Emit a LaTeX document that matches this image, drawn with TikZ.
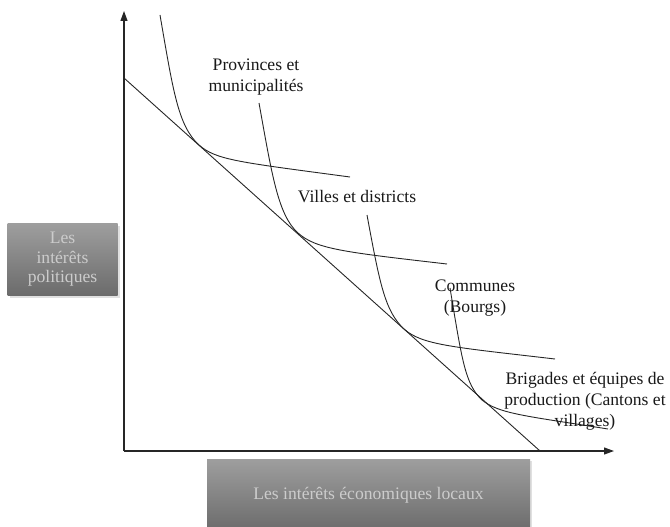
\documentclass[tikz,border=0pt]{standalone}
\usepackage{fontspec}
\setmainfont{Liberation Serif}
\usetikzlibrary{arrows.meta,shadows}
\begin{document}
\begin{tikzpicture}[x=1pt,y=-1pt,
  curve/.style={line width=0.9pt,black!85},
  axis/.style={line width=1.1pt,black!85,-{Triangle[length=10pt,width=7pt]}},
  lbl/.style={font=\fontsize{17.6}{21}\selectfont,align=center,inner sep=0pt,text=black!90},
  graybox/.style={draw=none,top color=black!38,bottom color=black!58,
     drop shadow={shadow xshift=2pt,shadow yshift=-2pt,fill=black!12,opacity=1},
     font=\fontsize{17.6}{19.5}\selectfont,text=black!20,align=center,inner sep=0pt}]
\useasboundingbox (0,0) rectangle (670,527);
% axes
\coordinate (O) at (124,451);
\coordinate (ytop) at (124,11);
\coordinate (xend) at (614,451);
\draw[axis] (O) -- (ytop);
\draw[axis] (O) -- (xend);
% budget line
\coordinate (L1) at (124,78);
\coordinate (L2) at (540,451);
\draw[curve] (L1) -- (L2);
% indifference curves
\coordinate (c1a) at (160,15);
\coordinate (c1t) at (199,145);
\coordinate (c1b) at (350,177);
\draw[curve] (c1a) .. controls (173,90) and (178,126) .. (c1t)
             .. controls (216,160) and (238,162) .. (c1b);
\coordinate (c2a) at (259,103);
\coordinate (c2t) at (298,233);
\coordinate (c2b) at (447,264);
\draw[curve] (c2a) .. controls (272,175) and (278,215) .. (c2t)
             .. controls (316,249) and (343,252) .. (c2b);
\coordinate (c3a) at (367,215);
\coordinate (c3t) at (404,329);
\coordinate (c3b) at (555,359);
\draw[curve] (c3a) .. controls (380,285) and (385,311) .. (c3t)
             .. controls (422,345) and (452,347) .. (c3b);
\coordinate (c4a) at (450,288);
\coordinate (c4t) at (482,400);
\coordinate (c4b) at (608,429);
\draw[curve] (c4a) .. controls (462,360) and (465,384) .. (c4t)
             .. controls (499,414) and (527,416) .. (c4b);
% labels
\node[lbl] (t1) at (256,77) {Provinces et\\municipalités};
\node[lbl] (t2) at (357,197) {Villes et districts};
\node[lbl] (t3) at (475,298) {Communes\\(Bourgs)};
\node[lbl] (t4) at (585,401) {Brigades et équipes de\\production (Cantons et\\villages)};
% gray boxes
\node[graybox,minimum width=110pt,minimum height=72pt] (yl) at (62.5,259.5) {Les\\intérêts\\politiques};
\node[graybox,minimum width=323pt,minimum height=72pt] (xl) at (368.5,495) {Les intérêts économiques locaux};
\end{tikzpicture}
\end{document}
